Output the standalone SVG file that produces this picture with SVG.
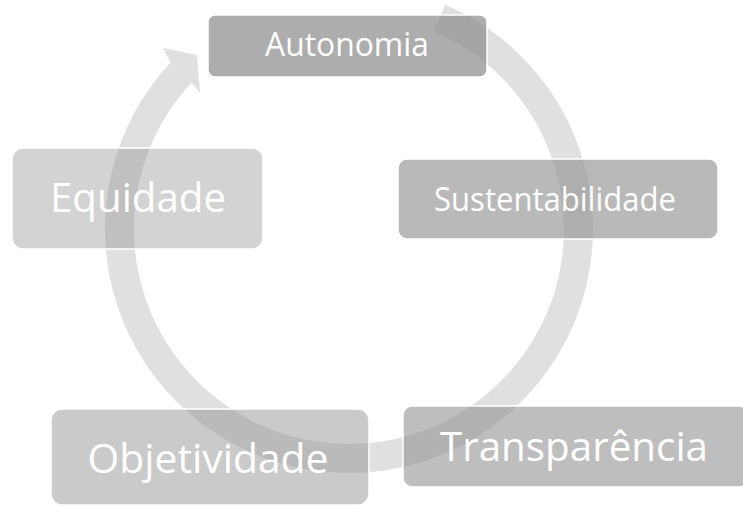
<svg xmlns="http://www.w3.org/2000/svg" width="743" height="506" viewBox="0 0 743 506">
  <style>
    .box { fill: #909090; stroke: #ffffff; stroke-width: 1.5; }
    .lbl { font-family: "Open Sans", "Liberation Sans", sans-serif; fill: #ffffff; text-anchor: middle; }
    .ring { fill: #e0e0e0; }
  </style>
  <rect width="743" height="506" fill="#ffffff"/>
  <g id="connectors">
    <path class="ring" d="M 445.1 4.7 A 244 244 0 1 1 170.5 62.6 L 163 48 L 197 55 L 200 93 L 191.7 82.4 A 215 215 0 1 0 433.7 31.4 Z"/>
  </g>
  <g id="node-autonomia">
    <rect class="box" x="208" y="15" width="279" height="62" rx="7" fill-opacity="0.74"/>
    <text class="lbl" x="347" y="56" font-size="32" textLength="164" lengthAdjust="spacingAndGlyphs">Autonomia</text>
  </g>
  <g id="node-sustentabilidade">
    <rect class="box" x="398" y="159" width="320" height="80" rx="9" fill-opacity="0.63"/>
    <text class="lbl" x="555" y="211" font-size="32" textLength="242" lengthAdjust="spacingAndGlyphs">Sustentabilidade</text>
  </g>
  <g id="node-transparencia">
    <rect class="box" x="403" y="406" width="345" height="81" rx="9" fill-opacity="0.59"/>
    <text class="lbl" x="574" y="461" font-size="41" textLength="268" lengthAdjust="spacingAndGlyphs">Transparência</text>
  </g>
  <g id="node-objetividade">
    <rect class="box" x="51" y="409" width="318" height="96" rx="11" fill-opacity="0.48"/>
    <text class="lbl" x="208" y="473" font-size="41" textLength="241" lengthAdjust="spacingAndGlyphs">Objetividade</text>
  </g>
  <g id="node-equidade">
    <rect class="box" x="12" y="148" width="251" height="101" rx="11" fill-opacity="0.40"/>
    <text class="lbl" x="138" y="212" font-size="41" textLength="176" lengthAdjust="spacingAndGlyphs">Equidade</text>
  </g>
</svg>
